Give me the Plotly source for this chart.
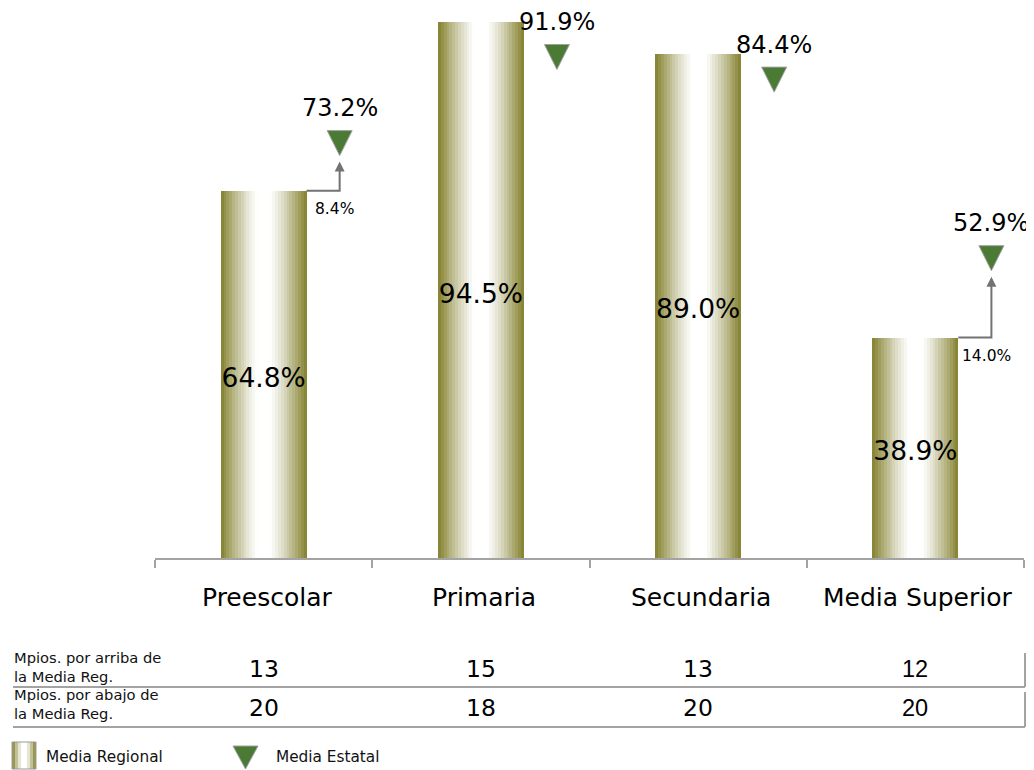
import plotly.graph_objects as go

categorias = ["Preescolar", "Primaria", "Secundaria", "Media Superior"]
media_regional = [64.8, 94.5, 89.0, 38.9]
media_estatal = [73.2, 91.9, 84.4, 52.9]
mpios_arriba = [13, 15, 13, 12]
mpios_abajo = [20, 18, 20, 20]
filas = ["Mpios. por arriba de<br>la Media Reg.", "Mpios. por abajo de<br>la Media Reg."]
leyenda = ["Media Regional", "Media Estatal"]

# the page puts the figure 8px in from the top-left corner
OFF = 8
W, H = 1034 - OFF, 770 - OFF
PLOT_LEFT, PLOT_RIGHT, PLOT_BOTTOM = 155, 1024, 558  # page pixels
ML = PLOT_LEFT - OFF
MR = W - (PLOT_RIGHT - OFF)
MB = H - (PLOT_BOTTOM - OFF)
PLOT_W = W - ML - MR
PLOT_H = H - MB
PX_PER_UNIT = 5.668
Y_MAX = PLOT_H / PX_PER_UNIT

BAR_W = 0.395
TRI_DX = 0.35
TRI_SIZE = 25
LABEL_GAP = 35
N_STRIPS = 30
OLIVE = (131, 128, 45)
GREEN = "#4b7a34"
GRAY = "#a3a3a3"
ARROW = "#737373"
FONT = "DejaVu Sans"


def mix(t):
    """t = 0 at the centre of the bar, 1 at the edge."""
    w = min(max((t - 0.15) / 0.85, 0.0), 1.0) ** 1.2
    r, g, b = [round(255 + (c - 255) * w) for c in OLIVE]
    return f"rgb({r},{g},{b})"


def paper(x, y):
    """page pixel -> paper coords"""
    return (x - PLOT_LEFT) / PLOT_W, (PLOT_BOTTOM - y) / PLOT_H


def note(x, y, text, size, xref="paper", xanchor="center", family=FONT, color="black", **kw):
    fig.add_annotation(
        x=x, y=y, xref=xref, yref="paper", text=text, showarrow=False,
        xanchor=xanchor, yanchor="middle", align="left",
        font=dict(size=size, color=color, family=family), **kw,
    )


xs = list(range(len(categorias)))
fig = go.Figure()

# gradient bars built from narrow strips
sw = BAR_W / N_STRIPS
for k in range(N_STRIPS):
    t = abs((k + 0.5) / N_STRIPS - 0.5) * 2
    fig.add_trace(
        go.Bar(
            x=xs,
            y=media_regional,
            width=sw * 1.2 if k < N_STRIPS - 1 else sw,
            offset=-BAR_W / 2 + k * sw,
            marker=dict(color=mix(t), line_width=0),
            showlegend=False,
            hoverinfo="skip",
        )
    )

# value labels in the middle of the bars
fig.add_trace(
    go.Scatter(
        x=xs,
        y=[v / 2 - 6 / PX_PER_UNIT for v in media_regional],
        mode="text",
        text=[f"{v:.1f}%" for v in media_regional],
        textfont=dict(size=26.5, color="black", family=FONT),
        showlegend=False,
        hoverinfo="skip",
    )
)

# state mean labels; keep them inside the figure, pushing the marker down if needed
standoffs = []
for i, s in enumerate(media_estatal):
    ypx = (Y_MAX - s) * PX_PER_UNIT  # from the top of the figure
    shift = LABEL_GAP if ypx - LABEL_GAP > 14 else ypx - 14
    standoffs.append(TRI_SIZE / 2 + (LABEL_GAP - shift))
    fig.add_annotation(
        x=i + TRI_DX, y=s, text=f"{s:.1f}%", showarrow=False, yshift=shift,
        font=dict(size=24, color="black", family=FONT),
    )

fig.add_trace(
    go.Scatter(
        x=[i + TRI_DX for i in xs],
        y=media_estatal,
        mode="markers",
        marker=dict(
            symbol="arrow-down",
            size=TRI_SIZE,
            standoff=standoffs,
            color=GREEN,
            line=dict(color="#a0a0a0", width=1),
        ),
        cliponaxis=False,
        showlegend=False,
        hoverinfo="skip",
    )
)

# connectors where the state mean is above the regional one
for i, (r, s) in enumerate(zip(media_regional, media_estatal)):
    if s <= r:
        continue
    xt = i + TRI_DX
    tip = s - 18.5 / PX_PER_UNIT
    fig.add_shape(
        type="path",
        path=f"M {i + BAR_W / 2},{r} L {xt},{r} L {xt},{tip - 3 / PX_PER_UNIT}",
        xref="x", yref="y",
        line=dict(color=ARROW, width=2),
    )
    fig.add_annotation(
        x=xt, y=tip, ax=xt, ay=tip - 10 / PX_PER_UNIT, axref="x", ayref="y",
        text="", showarrow=True, arrowhead=2, arrowsize=1, arrowwidth=2,
        arrowcolor=ARROW,
    )
    fig.add_annotation(
        x=xt, y=r, text=f"{s - r:.1f}%", showarrow=False, yshift=-18, xshift=-5,
        font=dict(size=15.5, color="black", family=FONT),
    )

# category labels
for i, c in enumerate(categorias):
    note(i, paper(0, 597)[1], c, 25, xref="x", xshift=3)

# table under the chart
for fila, vals, y_lab, y_val in [
    (filas[0], mpios_arriba, 667, 669),
    (filas[1], mpios_abajo, 704, 708),
]:
    note(paper(12, 0)[0], paper(0, y_lab)[1], fila, 14.7, xanchor="left", color="#111111")
    for i, v in enumerate(vals):
        note(i, paper(0, y_val)[1], str(v), 23.5, xref="x",
             family="Liberation Sans" if i == len(vals) - 1 else FONT)

for y_top, y_bot in [(653, 687), (692, 727)]:
    x0, yb = paper(13, y_bot)
    x1, yt = paper(1025, y_top)
    fig.add_shape(type="line", xref="paper", yref="paper", x0=x0, x1=x1, y0=yb, y1=yb,
                  line=dict(color=GRAY, width=2))
    fig.add_shape(type="line", xref="paper", yref="paper", x0=x1, x1=x1, y0=yb, y1=yt,
                  line=dict(color=GRAY, width=2))

# legend
n_leg = 8
for k in range(n_leg):
    t = abs((k + 0.5) / n_leg - 0.5) * 2
    x0, y0 = paper(12 + k * 24 / n_leg, 769)
    x1, y1 = paper(12 + (k + 1.2) * 24 / n_leg if k < n_leg - 1 else 36, 742)
    fig.add_shape(type="rect", xref="paper", yref="paper", x0=x0, x1=x1, y0=y0, y1=y1,
                  line_width=0, fillcolor=mix(t))
x0, y0 = paper(12, 769)
x1, y1 = paper(36, 742)
fig.add_shape(type="rect", xref="paper", yref="paper", x0=x0, x1=x1, y0=y0, y1=y1,
              line=dict(color="#9a9a9a", width=1))
note(paper(44, 0)[0], paper(0, 757)[1], leyenda[0], 15.3, xanchor="left", color="#111111")
ax0, ay0 = paper(233, 746)
ax1, _ = paper(258, 746)
axm, ay1 = paper(245.5, 769)
fig.add_shape(type="path", xref="paper", yref="paper",
              path=f"M {ax0},{ay0} L {ax1},{ay0} L {axm},{ay1} Z",
              fillcolor=GREEN, line=dict(color="#a0a0a0", width=1))
note(paper(274, 0)[0], paper(0, 757)[1], leyenda[1], 15.3, xanchor="left", color="#111111")

fig.update_layout(
    width=W,
    height=H,
    margin=dict(l=ML, r=MR, t=0, b=MB),
    barmode="overlay",
    bargap=0,
    plot_bgcolor="white",
    paper_bgcolor="white",
    font=dict(family=FONT, color="black"),
    xaxis=dict(
        range=[-0.5, len(categorias) - 0.5],
        tickvals=[i - 0.5 for i in range(len(categorias) + 1)],
        ticktext=[""] * (len(categorias) + 1),
        ticks="outside",
        ticklen=8,
        tickwidth=2,
        tickcolor=GRAY,
        showline=True,
        linecolor=GRAY,
        linewidth=2,
        showgrid=False,
        zeroline=False,
        fixedrange=True,
    ),
    yaxis=dict(range=[0, Y_MAX], visible=False, fixedrange=True),
    showlegend=False,
)

fig.write_html("out.html")
